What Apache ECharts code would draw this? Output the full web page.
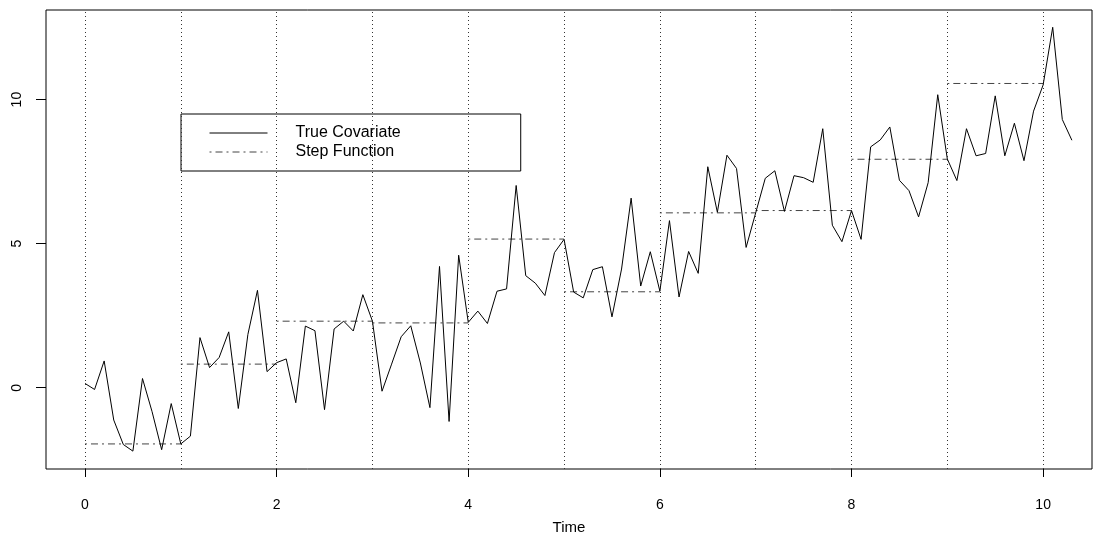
<!DOCTYPE html>
<html>
<head>
<meta charset="utf-8">
<script src="https://cdn.jsdelivr.net/npm/echarts@6/dist/echarts.min.js"></script>
<style>
  html, body { margin: 0; padding: 0; background: #fff; }
  #chart { width: 1102px; height: 540px; }
</style>
</head>
<body>
<div id="chart"></div>
<script>
// ---- Data ----
const times = [
  0.0, 0.1, 0.2, 0.3, 0.4, 0.5, 0.6, 0.7, 0.8, 0.9,
  1.0, 1.1, 1.2, 1.3, 1.4, 1.5, 1.6, 1.7, 1.8, 1.9,
  2.0, 2.1, 2.2, 2.3, 2.4, 2.5, 2.6, 2.7, 2.8, 2.9,
  3.0, 3.1, 3.2, 3.3, 3.4, 3.5, 3.6, 3.7, 3.8, 3.9,
  4.0, 4.1, 4.2, 4.3, 4.4, 4.5, 4.6, 4.7, 4.8, 4.9,
  5.0, 5.1, 5.2, 5.3, 5.4, 5.5, 5.6, 5.7, 5.8, 5.9,
  6.0, 6.1, 6.2, 6.3, 6.4, 6.5, 6.6, 6.7, 6.8, 6.9,
  7.0, 7.1, 7.2, 7.3, 7.4, 7.5, 7.6, 7.7, 7.8, 7.9,
  8.0, 8.1, 8.2, 8.3, 8.4, 8.5, 8.6, 8.7, 8.8, 8.9,
  9.0, 9.1, 9.2, 9.3, 9.4, 9.5, 9.6, 9.7, 9.8, 9.9,
  10.0, 10.1, 10.2, 10.3
];
const trueCovariate = [
  0.15, -0.06, 0.93, -1.12, -1.97, -2.20, 0.32, -0.83, -2.15, -0.55,
  -1.95, -1.68, 1.74, 0.70, 1.05, 1.94, -0.72, 1.85, 3.38, 0.56,
  0.87, 1.00, -0.52, 2.14, 1.98, -0.76, 2.04, 2.31, 1.97, 3.23,
  2.31, -0.12, 0.82, 1.77, 2.15, 0.86, -0.69, 4.21, -1.17, 4.60,
  2.27, 2.66, 2.23, 3.35, 3.43, 7.02, 3.89, 3.63, 3.20, 4.69,
  5.15, 3.32, 3.12, 4.10, 4.20, 2.46, 4.12, 6.58, 3.53, 4.72,
  3.35, 5.80, 3.15, 4.73, 3.97, 7.67, 6.09, 8.07, 7.61, 4.87,
  6.07, 7.27, 7.53, 6.12, 7.36, 7.29, 7.13, 8.99, 5.64, 5.07,
  6.15, 5.15, 8.36, 8.60, 9.05, 7.20, 6.84, 5.93, 7.12, 10.17,
  7.94, 7.19, 8.99, 8.05, 8.13, 10.13, 8.05, 9.18, 7.88, 9.60,
  10.51, 12.51, 9.31, 8.59
];
const stepStarts = [0, 1, 2, 3, 4, 5, 6, 7, 8, 9];
const stepEnds   = [1, 2, 3, 4, 5, 6, 7, 8, 9, 10];
const stepValues = [-1.95, 0.82, 2.31, 2.25, 5.16, 3.33, 6.07, 6.15, 7.93, 10.56];
const gridLines  = [0, 1, 2, 3, 4, 5, 6, 7, 8, 9, 10];
const xTicks = [0, 2, 4, 6, 8, 10];
const yTicks = [0, 5, 10];

// ---- Build series data ----
const covData = times.map((t, i) => [t, trueCovariate[i]]);
const stepData = [];
stepStarts.forEach((s, i) => {
  stepData.push([s, stepValues[i]]);
  stepData.push([stepEnds[i], stepValues[i]]);
  stepData.push([stepEnds[i], '-']);
});

const FONT = "'Liberation Sans', Arial, Helvetica, sans-serif";
const chart = echarts.init(document.getElementById('chart'), null, { renderer: 'canvas' });
chart.setOption({
  animation: false,
  backgroundColor: '#ffffff',
  textStyle: { fontFamily: FONT, color: '#000' },
  grid: {
    left: 46, right: 10, top: 10, bottom: 69,
    show: true, borderColor: '#000', borderWidth: 1, backgroundColor: 'transparent'
  },
  legend: {
    left: 181, top: 114,
    orient: 'vertical',
    borderColor: '#000', borderWidth: 1,
    backgroundColor: '#fff',
    padding: [11, 120, 11, 28],
    itemWidth: 58, itemHeight: 14, itemGap: 3,
    itemStyle: { opacity: 0 },
    lineStyle: { width: 1 },
    textStyle: { fontFamily: FONT, fontSize: 16, color: '#000', padding: [0, 0, 0, 23] },
    data: ['True Covariate', 'Step Function']
  },
  xAxis: {
    type: 'value',
    min: -0.407, max: 10.51,
    name: 'Time', nameLocation: 'middle', nameGap: 51,
    nameTextStyle: { fontFamily: FONT, fontSize: 15, color: '#000' },
    axisLine: { show: false, onZero: false },
    splitLine: { show: false },
    axisTick: { show: true, customValues: xTicks, length: 8, lineStyle: { color: '#000' } },
    axisLabel: { customValues: xTicks, margin: 29, fontFamily: FONT, fontSize: 14, color: '#000' }
  },
  yAxis: {
    type: 'value',
    min: -2.82, max: 13.11,
    axisLine: { show: false, onZero: false },
    splitLine: { show: false },
    axisTick: { show: true, customValues: yTicks, length: 10, lineStyle: { color: '#000' } },
    axisLabel: { customValues: yTicks, rotate: 90, margin: 22, fontFamily: FONT, fontSize: 14, color: '#000' }
  },
  series: [
    {
      name: 'True Covariate',
      type: 'line',
      data: covData,
      symbol: 'none',
      lineStyle: { color: '#000', width: 1 },
      itemStyle: { color: '#000' },
      z: 3,
      markLine: {
        silent: true,
        symbol: ['none', 'none'],
        label: { show: false },
        lineStyle: { color: '#333', width: 1, type: [1, 3] },
        data: gridLines.map(v => ({ xAxis: v }))
      }
    },
    {
      name: 'Step Function',
      type: 'line',
      data: stepData,
      connectNulls: false,
      symbol: 'none',
      lineStyle: { color: '#444', width: 1, type: [2, 4, 7, 4] },
      itemStyle: { color: '#444' },
      z: 2
    }
  ]
});
</script>
</body>
</html>
